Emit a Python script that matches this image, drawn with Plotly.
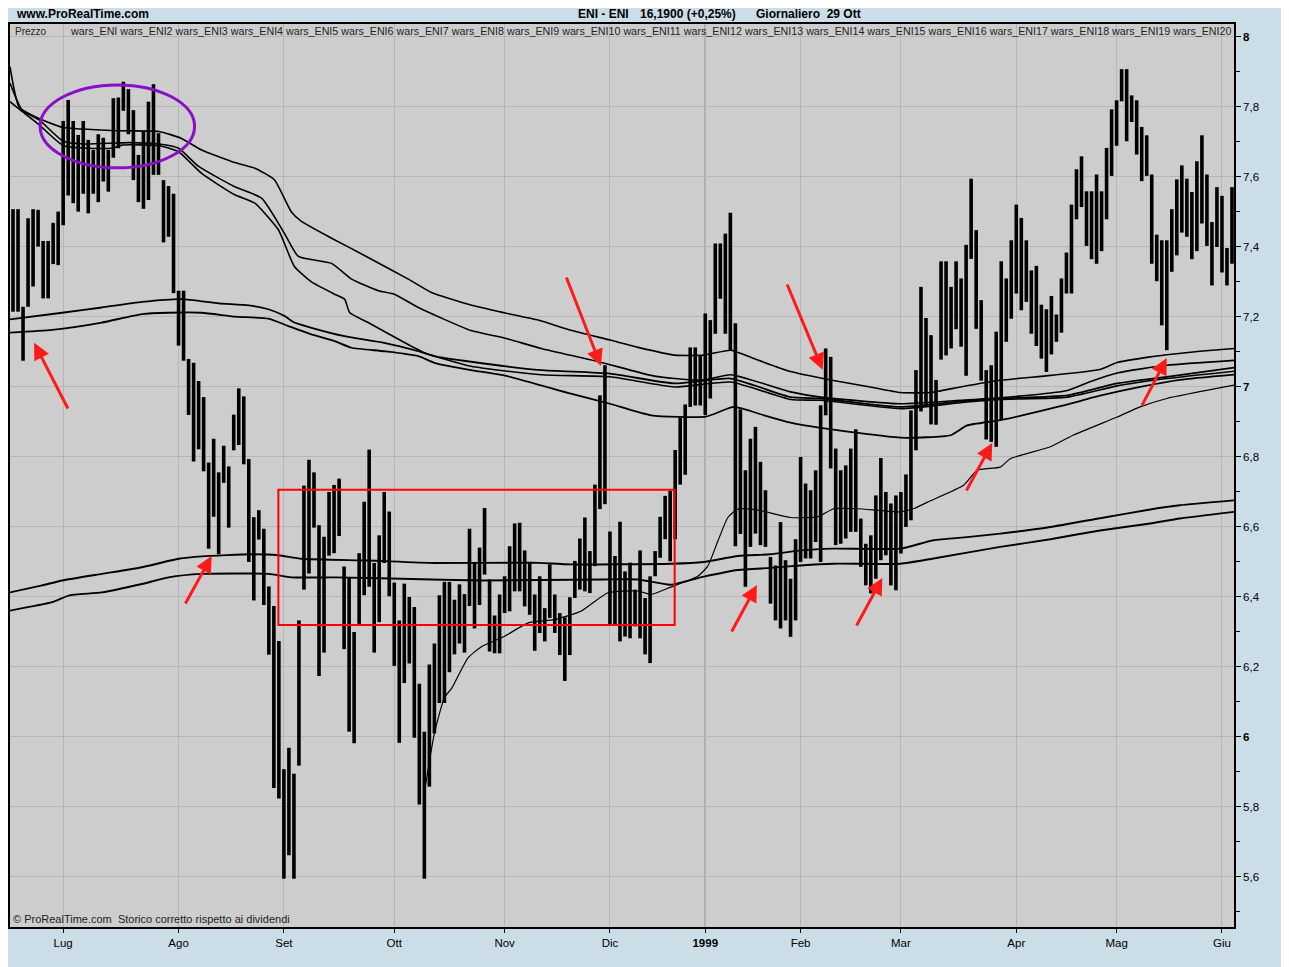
import plotly.graph_objects as go

# ---------------- data ----------------
highs = [7.508, 7.508, 7.229, 7.482, 7.508, 7.506, 7.417, 7.417, 7.469, 7.501,
         7.760, 7.820, 7.760, 7.720, 7.760, 7.706, 7.677, 7.722, 7.712, 7.677,
         7.825, 7.827, 7.872, 7.851, 7.791, 7.663, 7.730, 7.815, 7.865, 7.725,
         7.591, 7.574, 7.552, 7.275, 7.275, 7.080, 7.069, 7.017, 6.971, 6.784,
         6.852, 6.756, 6.832, 6.773, 6.921, 6.996, 6.973, 6.794, 6.628, 6.648,
         6.595, 6.430, 6.374, 6.274, 5.908, 5.969, 5.895, 6.333, 6.718, 6.792,
         6.756, 6.605, 6.572, 6.700, 6.720, 6.738, 6.487, 6.456, 6.300, 6.525,
         6.672, 6.821, 6.497, 6.576, 6.700, 6.644, 6.441, 6.333, 6.438, 6.400,
         6.371, 6.152, 6.015, 6.207, 6.267, 6.405, 6.443, 6.443, 6.392, 6.436,
         6.408, 6.595, 6.500, 6.541, 6.654, 6.450, 6.347, 6.407, 6.459, 6.545,
         6.610, 6.612, 6.533, 6.498, 6.407, 6.459, 6.368, 6.493, 6.407, 6.354,
         6.342, 6.399, 6.503, 6.567, 6.627, 6.531, 6.721, 6.976, 7.062, 6.587,
         6.517, 6.615, 6.473, 6.498, 6.421, 6.533, 6.397, 6.459, 6.531, 6.629,
         6.689, 6.703, 6.820, 6.912, 6.950, 7.113, 7.113, 7.091, 7.210, 7.191,
         7.410, 7.410, 7.438, 7.498, 7.182, 6.936, 6.762, 6.852, 6.886, 6.786,
         6.705, 6.514, 6.490, 6.614, 6.505, 6.452, 6.565, 6.800, 6.724, 6.705,
         6.762, 6.948, 7.110, 7.086, 6.824, 6.762, 6.776, 6.824, 6.879, 6.624,
         6.552, 6.576, 6.690, 6.797, 6.700, 6.667, 6.690, 6.700, 6.750, 6.933,
         7.048, 7.286, 7.197, 7.148, 7.020, 7.359, 7.359, 7.286, 7.359, 7.310,
         7.406, 7.595, 7.448, 7.248, 7.048, 7.062, 7.158, 7.359, 7.310, 7.419,
         7.521, 7.483, 7.419, 7.333, 7.346, 7.235, 7.222, 7.260, 7.207, 7.310,
         7.384, 7.521, 7.622, 7.659, 7.559, 7.559, 7.607, 7.559, 7.683, 7.793,
         7.819, 7.908, 7.908, 7.833, 7.819, 7.743, 7.719, 7.607, 7.435, 7.419,
         7.419, 7.508, 7.593, 7.633, 7.595, 7.557, 7.645, 7.719, 7.607, 7.471,
         7.571, 7.546, 7.397, 7.571]
lows = [7.215, 7.215, 7.075, 7.229, 7.287, 7.401, 7.253, 7.253, 7.351, 7.348,
        7.462, 7.547, 7.525, 7.501, 7.552, 7.496, 7.552, 7.528, 7.587, 7.558,
        7.655, 7.682, 7.789, 7.722, 7.591, 7.528, 7.509, 7.534, 7.606, 7.606,
        7.413, 7.429, 7.268, 7.118, 7.075, 6.920, 6.787, 6.822, 6.759, 6.538,
        6.629, 6.522, 6.726, 6.598, 6.819, 6.834, 6.779, 6.500, 6.390, 6.564,
        6.377, 6.235, 5.854, 5.824, 5.595, 5.662, 5.595, 5.918, 6.421, 6.467,
        6.598, 6.174, 6.241, 6.518, 6.525, 6.574, 6.251, 6.015, 5.982, 6.323,
        6.405, 6.429, 6.241, 6.328, 6.497, 6.402, 6.203, 5.983, 6.154, 6.210,
        5.998, 5.807, 5.595, 5.858, 6.010, 6.097, 6.097, 6.185, 6.236, 6.267,
        6.241, 6.374, 6.310, 6.377, 6.464, 6.244, 6.239, 6.239, 6.354, 6.359,
        6.416, 6.416, 6.373, 6.349, 6.246, 6.297, 6.273, 6.340, 6.297, 6.234,
        6.160, 6.234, 6.397, 6.421, 6.416, 6.411, 6.488, 6.651, 6.665, 6.321,
        6.321, 6.273, 6.287, 6.282, 6.316, 6.282, 6.236, 6.211, 6.459, 6.512,
        6.565, 6.502, 6.565, 6.721, 6.749, 6.943, 6.947, 6.947, 6.920, 6.967,
        7.152, 7.252, 7.152, 7.105, 6.545, 6.580, 6.429, 6.543, 6.581, 6.548,
        6.543, 6.381, 6.333, 6.310, 6.333, 6.286, 6.333, 6.500, 6.510, 6.510,
        6.557, 6.500, 6.919, 6.767, 6.548, 6.552, 6.567, 6.586, 6.586, 6.486,
        6.433, 6.410, 6.452, 6.505, 6.519, 6.433, 6.419, 6.524, 6.600, 6.619,
        6.819, 6.930, 6.945, 6.893, 6.892, 7.078, 7.090, 7.110, 7.165, 7.115,
        7.032, 7.366, 7.166, 7.018, 6.850, 6.843, 6.829, 6.905, 7.129, 7.195,
        7.267, 7.219, 7.243, 7.152, 7.117, 7.081, 7.043, 7.093, 7.129, 7.155,
        7.267, 7.267, 7.479, 7.514, 7.403, 7.365, 7.352, 7.388, 7.479, 7.603,
        7.689, 7.816, 7.702, 7.757, 7.664, 7.588, 7.603, 7.352, 7.302, 7.176,
        7.105, 7.329, 7.376, 7.441, 7.429, 7.365, 7.388, 7.467, 7.403, 7.290,
        7.400, 7.327, 7.290, 7.352]

month_idx = [10, 33, 54, 76, 98, 119, 138, 157, 177, 200, 220, 241]
month_lbl = ["Lug", "Ago", "Set", "Ott", "Nov", "Dic", "<b>1999</b>",
             "Feb", "Mar", "Apr", "Mag", "Giu"]

# indicator lines (bar index, price)
a1_x = [-0.6, 1.2, 4.4, 9.8, 21.1, 29.1, 33.6, 37.6, 44.2, 48.2, 52.1, 55.5, 57.5, 63.5, 69.5,
        78.8, 83.4, 91.3, 97.9, 104.7, 111.2, 119.0, 124.6, 131.9, 137.7, 143.1, 147.7,
        155.0, 163.0, 170.9, 176.9, 182.9, 188.9, 196.8, 206.8, 216.7, 220.1, 226.7,
        230.0, 236.6, 243.4]
a1_y = [7.915, 7.80, 7.772, 7.742, 7.732, 7.730, 7.710, 7.677, 7.641, 7.625, 7.592, 7.50,
        7.473, 7.425, 7.38, 7.308, 7.270, 7.234, 7.212, 7.191, 7.162, 7.134, 7.113,
        7.091, 7.091, 7.105, 7.081, 7.044, 7.02, 7.0, 6.984, 6.984, 7.0, 7.019, 7.033,
        7.05, 7.07, 7.086, 7.092, 7.102, 7.11]

a2_x = [-0.6, 1.8, 5.2, 10.1, 14.3, 23.1, 29.1, 33.0, 37.0, 44.2, 49.6, 54.1, 56.9, 63.5,
        67.5, 72.8, 76.0, 80.8, 91.3, 97.9, 105.3, 116.8, 127.2, 131.9, 137.7, 143.1,
        155.0, 161.0, 176.9, 188.9, 196.8, 210.2, 214.7, 220.1, 230.0, 243.4]
a2_y = [7.868, 7.791, 7.763, 7.701, 7.694, 7.698, 7.694, 7.682, 7.630, 7.572, 7.539,
        7.439, 7.373, 7.353, 7.308, 7.275, 7.265, 7.227, 7.161, 7.14, 7.11, 7.072,
        7.033, 7.024, 7.02, 7.035, 6.986, 6.971, 6.952, 6.962, 6.969, 6.99, 7.015,
        7.04, 7.062, 7.076]

a3_x = [-0.6, 1.8, 5.2, 10.1, 19.7, 21.7, 29.1, 33.0, 37.6, 44.2, 48.2, 52.9, 56.1, 59.5,
        64.1, 66.1, 67.1, 70.8, 77.4, 82.0, 91.3, 105.3, 119.0, 131.9, 143.1, 155.0,
        161.0, 176.9, 188.9, 196.8, 210.2, 220.1, 230.0, 243.4]
a3_y = [7.815, 7.787, 7.749, 7.689, 7.682, 7.691, 7.689, 7.672, 7.610, 7.549, 7.525,
        7.449, 7.344, 7.30, 7.265, 7.251, 7.213, 7.184, 7.132, 7.098, 7.059, 7.035,
        7.029, 7.0, 7.014, 6.964, 6.962, 6.938, 6.955, 6.964, 6.971, 7.003, 7.024, 7.045]

b1_x = [-0.6, 9.8, 17.7, 25.7, 33.6, 41.0, 47.0, 50.9, 54.1, 56.1, 59.5, 66.1, 74.0, 80.8,
        84.0, 91.3, 105.3, 119.0, 131.9, 143.1, 155.0, 161.0, 176.9, 188.9, 196.8,
        210.2, 220.1, 230.0, 243.4]
b1_y = [7.193, 7.212, 7.227, 7.243, 7.251, 7.239, 7.233, 7.222, 7.203, 7.184, 7.169,
        7.145, 7.126, 7.102, 7.088, 7.072, 7.048, 7.038, 7.010, 7.024, 6.971, 6.967,
        6.943, 6.959, 6.967, 6.976, 7.010, 7.029, 7.055]

b2_x = [-0.6, 7.8, 17.7, 25.7, 31.0, 37.6, 44.2, 50.9, 54.9, 59.5, 64.1, 67.5, 74.0, 80.8,
        84.0, 91.3, 97.9, 111.2, 119.0, 127.2, 138.1, 143.7, 149.7, 155.0, 161.0, 176.9,
        186.9, 190.2, 196.8, 208.8, 216.7, 224.7, 232.6, 243.4]
b2_y = [7.155, 7.163, 7.184, 7.208, 7.212, 7.212, 7.201, 7.195, 7.174, 7.150, 7.131,
        7.112, 7.102, 7.088, 7.069, 7.048, 7.033, 6.981, 6.952, 6.919, 6.915, 6.943,
        6.919, 6.898, 6.883, 6.855, 6.862, 6.89, 6.905, 6.945, 6.975, 7.0, 7.02, 7.035]

d_x = [82.0, 84.0, 86.0, 87.4, 90.7, 93.3, 97.9, 102.7, 107.9, 113.2, 118.6, 124.6, 127.2,
       131.1, 136.5, 138.5, 140.5, 142.5, 144.5, 148.5, 155.0, 160.4, 163.6, 168.4,
       176.9, 179.5, 182.3, 189.5, 192.2, 196.8, 198.8, 206.8, 211.3, 220.1, 224.7,
       230.0, 243.4]
d_y = [5.841, 6.010, 6.113, 6.138, 6.226, 6.257, 6.287, 6.326, 6.335, 6.359, 6.412, 6.417,
       6.407, 6.428, 6.459, 6.488, 6.559, 6.627, 6.651, 6.648, 6.627, 6.629, 6.652,
       6.652, 6.643, 6.652, 6.671, 6.719, 6.762, 6.771, 6.795, 6.829, 6.862, 6.914,
       6.943, 6.967, 7.005]

c1_x = [-0.6, 5.8, 9.8, 17.7, 25.7, 33.0, 37.6, 47.6, 52.9, 57.5, 70.8, 84.0, 103.3, 111.2,
        131.1, 137.7, 144.5, 151.0, 157.0, 163.6, 176.9, 183.5, 190.2, 196.8, 206.8,
        216.7, 226.7, 232.6, 243.4]
c1_y = [6.413, 6.433, 6.447, 6.466, 6.485, 6.509, 6.516, 6.522, 6.519, 6.509, 6.504,
        6.497, 6.498, 6.493, 6.495, 6.50, 6.517, 6.522, 6.533, 6.538, 6.538, 6.562,
        6.571, 6.581, 6.60, 6.625, 6.65, 6.662, 6.676]

c2_x = [-0.6, 7.8, 11.1, 17.7, 25.7, 31.0, 37.6, 50.9, 55.5, 64.1, 77.4, 93.3, 117.8, 124.6,
        131.1, 137.7, 144.5, 151.0, 157.0, 163.6, 176.9, 183.5, 196.8, 206.8, 216.7,
        226.7, 232.6, 243.4]
c2_y = [6.361, 6.385, 6.404, 6.413, 6.437, 6.456, 6.466, 6.466, 6.456, 6.456, 6.452,
        6.447, 6.450, 6.450, 6.435, 6.458, 6.477, 6.483, 6.490, 6.495, 6.495, 6.510,
        6.543, 6.565, 6.59, 6.61, 6.624, 6.643]

# red arrows: (tail x, tail y, head x, head y) in bar index / price
arrows = [(11.1, 6.934, 4.2, 7.126), (34.2, 6.377, 39.6, 6.517),
          (110.2, 7.317, 117.2, 7.060), (143.1, 6.297, 148.3, 6.434),
          (154.2, 7.297, 161.4, 7.049), (168.0, 6.314, 173.3, 6.454),
          (189.9, 6.700, 195.2, 6.840), (224.9, 6.943, 230.0, 7.083)]

legend_items = ["wars_ENI"] + ["wars_ENI%d" % k for k in range(2, 21)]

# ---------------- figure ----------------
OFF = 8  # page body margin
W, H = 1281, 959
L, R, T, B = 0, 55, 16, 40
PW, PH = W - L - R, H - T - B


def px_x(p):
    return (p - OFF - L) / PW


def px_y(p):
    return (H - B - (p - OFF)) / PH


fig = go.Figure()

bx, by = [], []
for i, (h, l) in enumerate(zip(highs, lows)):
    bx += [i, i, None]
    by += [l, h, None]
fig.add_trace(go.Scatter(x=bx, y=by, mode="lines",
                         line=dict(color="black", width=3.6), hoverinfo="skip"))

for xs, ys, w in [(a1_x, a1_y, 1.6), (a2_x, a2_y, 1.6), (a3_x, a3_y, 1.6),
                  (b1_x, b1_y, 1.8), (b2_x, b2_y, 1.8), (d_x, d_y, 1.2),
                  (c1_x, c1_y, 1.9), (c2_x, c2_y, 1.9)]:
    fig.add_trace(go.Scatter(x=xs, y=ys, mode="lines",
                             line=dict(color="black", width=w, shape="spline", smoothing=0.5)))

# shapes
fig.add_shape(type="line", x0=138, x1=138, y0=0, y1=1, xref="x", yref="paper",
              line=dict(color="#8c8c8c", width=1.5), layer="below")
fig.add_shape(type="circle", x0=5.4, x1=36.2, y0=7.626, y1=7.863,
              line=dict(color="#8a10c8", width=3))
fig.add_shape(type="rect", x0=52.9, x1=131.9, y0=6.32, y1=6.706,
              line=dict(color="#ff0000", width=2))

ann = []
for tx, ty, hx, hy in arrows:
    ann.append(dict(x=hx, y=hy, ax=tx, ay=ty, xref="x", yref="y", axref="x", ayref="y",
                    text="", showarrow=True, arrowhead=2, arrowsize=1.1,
                    arrowwidth=3, arrowcolor="#ff1a1a"))

font = "Liberation Sans, Arial, sans-serif"
ann.append(dict(x=px_x(12), y=px_y(14), xref="paper", yref="paper", xanchor="left",
                yanchor="middle", text="<b>www.ProRealTime.com</b>", showarrow=False,
                font=dict(size=12, family=font, color="black")))
ann.append(dict(x=px_x(575), y=px_y(14), xref="paper", yref="paper", xanchor="left",
                yanchor="middle", text="<b>ENI - ENI</b>", showarrow=False,
                font=dict(size=12, family=font, color="black")))
ann.append(dict(x=px_x(637), y=px_y(14), xref="paper", yref="paper", xanchor="left",
                yanchor="middle", text="<b>16,1900 (+0,25%)</b>", showarrow=False,
                font=dict(size=12, family=font, color="black")))
ann.append(dict(x=px_x(753), y=px_y(14), xref="paper", yref="paper", xanchor="left",
                yanchor="middle", text="<b>Giornaliero  29 Ott</b>", showarrow=False,
                font=dict(size=12, family=font, color="black")))
ann.append(dict(x=px_x(11), y=px_y(31), xref="paper", yref="paper", xanchor="left",
                yanchor="middle", text="Prezzo", showarrow=False,
                font=dict(size=10, family=font, color="#222")))
ann.append(dict(x=px_x(1233), y=px_y(31), xref="paper", yref="paper", xanchor="right",
                yanchor="middle", text=" ".join(legend_items), showarrow=False,
                font=dict(size=10.7, family=font, color="#222")))
ann.append(dict(x=px_x(9), y=px_y(919), xref="paper", yref="paper", xanchor="left",
                yanchor="middle", text="© ProRealTime.com  Storico corretto rispetto ai dividendi",
                showarrow=False, font=dict(size=11, family=font, color="#222")))

yvals = [round(5.6 + 0.2 * k, 1) for k in range(13)]
ytext = []
for v in yvals:
    if abs(v - round(v)) < 1e-9:
        ytext.append("<b>%d</b>" % round(v))
    else:
        ytext.append(("%.1f" % v).replace(".", ","))
yminor = [round(5.5 + 0.2 * k, 1) for k in range(13)]

fig.update_layout(
    width=W, height=H,
    margin=dict(l=L, r=R, t=T, b=B),
    paper_bgcolor="#cbdde7",
    plot_bgcolor="#cdcdcd",
    showlegend=False,
    annotations=ann,
    font=dict(family=font, size=12, color="black"),
    xaxis=dict(range=[-0.6, 243.4], tickmode="array", tickvals=month_idx, ticktext=month_lbl,
               ticks="outside", ticklen=4, tickcolor="black", showgrid=True,
               gridcolor="#b6b6b6", gridwidth=1, showline=True, linecolor="black",
               linewidth=1.5, mirror=True, zeroline=False, tickfont=dict(size=11.5)),
    yaxis=dict(range=[5.457, 8.037], side="right", tickmode="array", tickvals=yvals,
               ticktext=ytext, ticks="outside", ticklen=5, tickcolor="black",
               showgrid=True, gridcolor="#b6b6b6", gridwidth=1, showline=True,
               linecolor="black", linewidth=1.5, mirror=True, zeroline=False,
               tickfont=dict(size=11.5),
               minor=dict(tickmode="array", tickvals=yminor, ticks="outside", ticklen=4,
                          tickcolor="black", showgrid=False)),
)

fig.write_html("out.html")
